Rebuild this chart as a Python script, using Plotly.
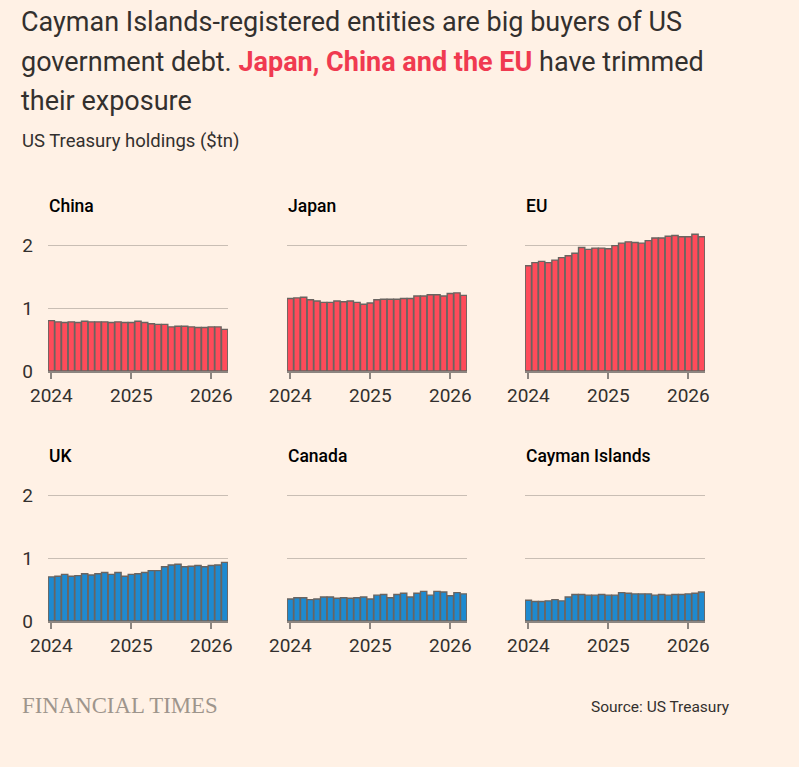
import plotly.graph_objects as go

months = list(range(27))  # Jan 2024 .. Mar 2026
year_ticks = [0, 12, 24]
year_labels = ["2024", "2025", "2026"]

china = [0.80, 0.78, 0.77, 0.78, 0.77, 0.79, 0.78, 0.78, 0.78, 0.77, 0.78, 0.77, 0.77, 0.79,
         0.77, 0.75, 0.74, 0.74, 0.70, 0.71, 0.71, 0.70, 0.69, 0.69, 0.70, 0.70, 0.66]
japan = [1.15, 1.16, 1.17, 1.13, 1.11, 1.09, 1.09, 1.11, 1.10, 1.11, 1.09, 1.06, 1.08, 1.13,
         1.14, 1.14, 1.14, 1.15, 1.15, 1.19, 1.19, 1.21, 1.21, 1.19, 1.23, 1.24, 1.20]
eu = [1.67, 1.72, 1.74, 1.72, 1.76, 1.80, 1.83, 1.87, 1.96, 1.93, 1.95, 1.95, 1.94, 1.99,
      2.03, 2.05, 2.04, 2.03, 2.07, 2.11, 2.11, 2.14, 2.15, 2.13, 2.13, 2.17, 2.13]
uk = [0.70, 0.71, 0.74, 0.71, 0.72, 0.75, 0.73, 0.75, 0.77, 0.74, 0.77, 0.71, 0.74, 0.75,
      0.77, 0.80, 0.80, 0.86, 0.89, 0.90, 0.86, 0.87, 0.88, 0.86, 0.88, 0.89, 0.93]
canada = [0.35, 0.37, 0.37, 0.34, 0.35, 0.38, 0.38, 0.36, 0.37, 0.36, 0.37, 0.38, 0.35, 0.41,
          0.42, 0.37, 0.42, 0.44, 0.38, 0.44, 0.47, 0.41, 0.47, 0.46, 0.40, 0.45, 0.43]
cayman = [0.33, 0.31, 0.31, 0.32, 0.34, 0.32, 0.38, 0.42, 0.42, 0.41, 0.41, 0.42, 0.41, 0.41,
          0.45, 0.44, 0.43, 0.43, 0.43, 0.41, 0.42, 0.41, 0.42, 0.42, 0.43, 0.44, 0.46]

panels = [("China", china, "#FF4B5A"), ("Japan", japan, "#FF4B5A"), ("EU", eu, "#FF4B5A"),
          ("UK", uk, "#1E8AD0"), ("Canada", canada, "#1E8AD0"), ("Cayman Islands", cayman, "#1E8AD0")]

W, H = 799, 767
BG = "#FFF1E5"
TXT = "#33302E"
FONT = "Roboto, 'Noto Sans', sans-serif"

col_x = [(48, 228), (287, 467), (525, 705)]
row_base = [371, 621]
px_per_unit = 63
y_max = 2.3

fig = go.Figure()
layout_axes = {}
annotations = []
for i, (name, vals, color) in enumerate(panels):
    r, c = divmod(i, 3)
    n = i + 1
    xa = "x" if n == 1 else f"x{n}"
    ya = "y" if n == 1 else f"y{n}"
    fig.add_trace(go.Bar(x=months, y=vals, xaxis=xa, yaxis=ya,
                         marker=dict(color=color, line=dict(color="#6A6460", width=1.4)),
                         showlegend=False, hoverinfo="x+y"))
    x0, x1 = col_x[c]
    base = row_base[r]
    top = base - y_max * px_per_unit
    layout_axes[f"xaxis{'' if n == 1 else n}"] = dict(
        domain=[x0 / W, x1 / W], anchor=ya, range=[-0.5, 26.5], automargin=False,
        tickvals=year_ticks, ticktext=year_labels, ticks="outside", ticklen=6,
        tickcolor="#8C8580", tickwidth=1.5, showline=True, linecolor="#8C8580", linewidth=1.5,
        showgrid=False, zeroline=False, fixedrange=True,
        tickfont=dict(family=FONT, size=19, color=TXT))
    layout_axes[f"yaxis{'' if n == 1 else n}"] = dict(
        domain=[1 - base / H, 1 - top / H], anchor=xa, range=[0, y_max], automargin=False,
        tickvals=[0, 1, 2], showticklabels=(c == 0), showgrid=True,
        gridcolor="#C9BEB4", gridwidth=1.2, zeroline=False, showline=False, ticks="",
        ticklabelstandoff=14, fixedrange=True,
        tickfont=dict(family=FONT, size=19, color=TXT))
    annotations.append(dict(text=name, xref="paper", yref="paper", x=(x0 - 1) / W,
                            y=1 - (base - 165) / H, xanchor="left", yanchor="middle",
                            showarrow=False,
                            font=dict(family=FONT, size=17.5, color="#000000", weight=500)))

title_lines = [
    "Cayman Islands-registered entities are big buyers of US",
    "government debt. <span style='color:#F03A50'><b>Japan, China and the EU</b></span> have trimmed",
    "their exposure",
]
for k, line in enumerate(title_lines):
    annotations.append(dict(text=line, xref="paper", yref="paper", x=19 / W,
                            y=1 - (22 + 39.5 * k) / H, xanchor="left", yanchor="middle",
                            showarrow=False, font=dict(family=FONT, size=27, color=TXT)))

annotations.append(dict(text="US Treasury holdings ($tn)", xref="paper", yref="paper",
                        x=20 / W, y=1 - 141 / H, xanchor="left", yanchor="middle",
                        showarrow=False, font=dict(family=FONT, size=18.5, color=TXT)))
annotations.append(dict(text="FINANCIAL TIMES", xref="paper", yref="paper",
                        x=20 / W, y=1 - 705 / H, xanchor="left", yanchor="middle",
                        showarrow=False,
                        font=dict(family="'Liberation Serif', 'DejaVu Serif', serif",
                                  size=22.8, color="#9E958C")))
annotations.append(dict(text="Source: US Treasury", xref="paper", yref="paper",
                        x=732 / W, y=1 - 707 / H, xanchor="right", yanchor="middle",
                        showarrow=False, font=dict(family=FONT, size=15.5, color=TXT)))

fig.update_layout(width=W, height=H, margin=dict(l=0, r=0, t=0, b=0, autoexpand=False),
                  paper_bgcolor=BG, plot_bgcolor=BG, bargap=0.06,
                  annotations=annotations, **layout_axes)

fig.write_html("out.html")
